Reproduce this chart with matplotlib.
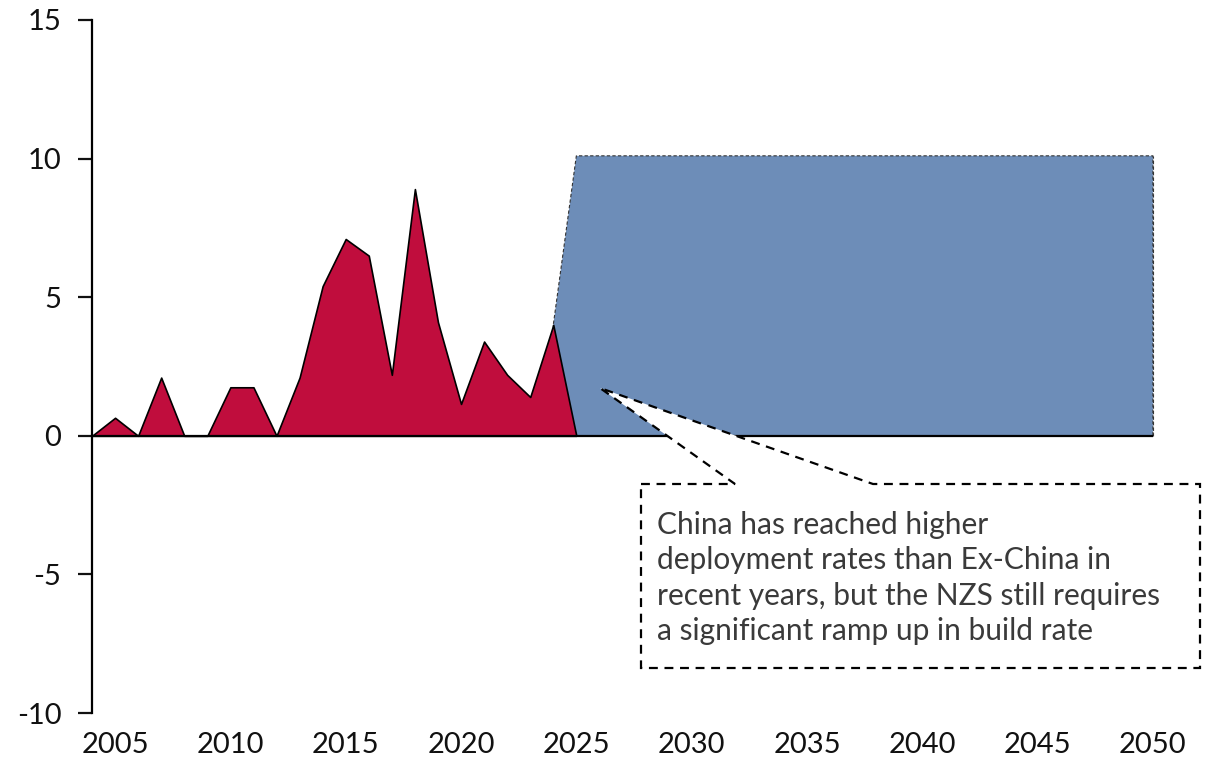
import numpy as np
import matplotlib.pyplot as plt
from matplotlib.patches import Polygon

# historical deployment (red) and required build rate (blue)
years_hist = np.arange(2004, 2026)
hist = [0, 0.65, 0, 2.1, 0, 0, 1.75, 1.75, 0, 2.1, 5.4, 7.1, 6.5, 2.2,
        8.9, 4.1, 1.15, 3.4, 2.2, 1.4, 4.0, 0]

years_nzs = np.arange(2024, 2051)
nzs = [4.0] + [10.1] * 26

y_ticks = [-10, -5, 0, 5, 10, 15]
x_ticks = list(range(2005, 2051, 5))

note = ("China has reached higher\n"
        "deployment rates than Ex-China in\n"
        "recent years, but the NZS still requires\n"
        "a significant ramp up in build rate")

plt.rcParams['font.family'] = ['Lato', 'DejaVu Sans']
plt.rcParams['axes.unicode_minus'] = False

fig = plt.figure(figsize=(12.11, 7.58), dpi=100)
ax = fig.add_axes([92 / 1211, 45 / 758, (1176 - 92) / 1211, (738 - 45) / 758])

red = '#C00D3D'
blue = '#6D8DB8'

ax.fill_between(years_nzs, 0, nzs, facecolor=blue, edgecolor='#333333',
                linestyle=(0, (3, 2)), linewidth=0.8, zorder=1)
# right hand drop of the blue area
ax.vlines(years_nzs[-1], 0, nzs[-1], colors='#333333', linestyles=(0, (3, 2)),
          linewidth=0.8, zorder=1)
ax.fill_between(years_hist, 0, hist, facecolor=red, edgecolor='black',
                linewidth=1.2, zorder=2)
ax.hlines(0, years_hist[0], years_nzs[-1], colors='black', linewidth=1.6, zorder=3)

ax.set_xlim(2004, 2051)
ax.set_ylim(-10, 15)
ax.set_yticks(y_ticks)
ax.set_xticks(x_ticks)
ax.set_xticklabels([str(x) for x in x_ticks])

for s in ['top', 'right', 'bottom']:
    ax.spines[s].set_visible(False)
ax.spines['left'].set_linewidth(1.6)
ax.tick_params(axis='y', length=10, width=1.6, pad=12, labelsize=21, colors='#111111')
ax.tick_params(axis='x', length=0, pad=14, labelsize=21, colors='#111111')

# callout box with wedge (figure pixel coordinates)
W, H = 1211, 758
pts = [(641, 484), (735, 484), (600, 388), (873, 484), (1200, 484),
       (1200, 668), (641, 668)]
poly = Polygon([(px / W, 1 - py / H) for px, py in pts], closed=True,
               transform=fig.transFigure, facecolor='white', edgecolor='black',
               linestyle=(0, (4, 3)), linewidth=1.6, zorder=5)
fig.add_artist(poly)
fig.text(657 / W, 1 - 578 / H, note, ha='left', va='center', fontsize=21.5,
         color='#3a3a3a', linespacing=1.32, zorder=6)

fig.savefig('out.png', dpi=100)
